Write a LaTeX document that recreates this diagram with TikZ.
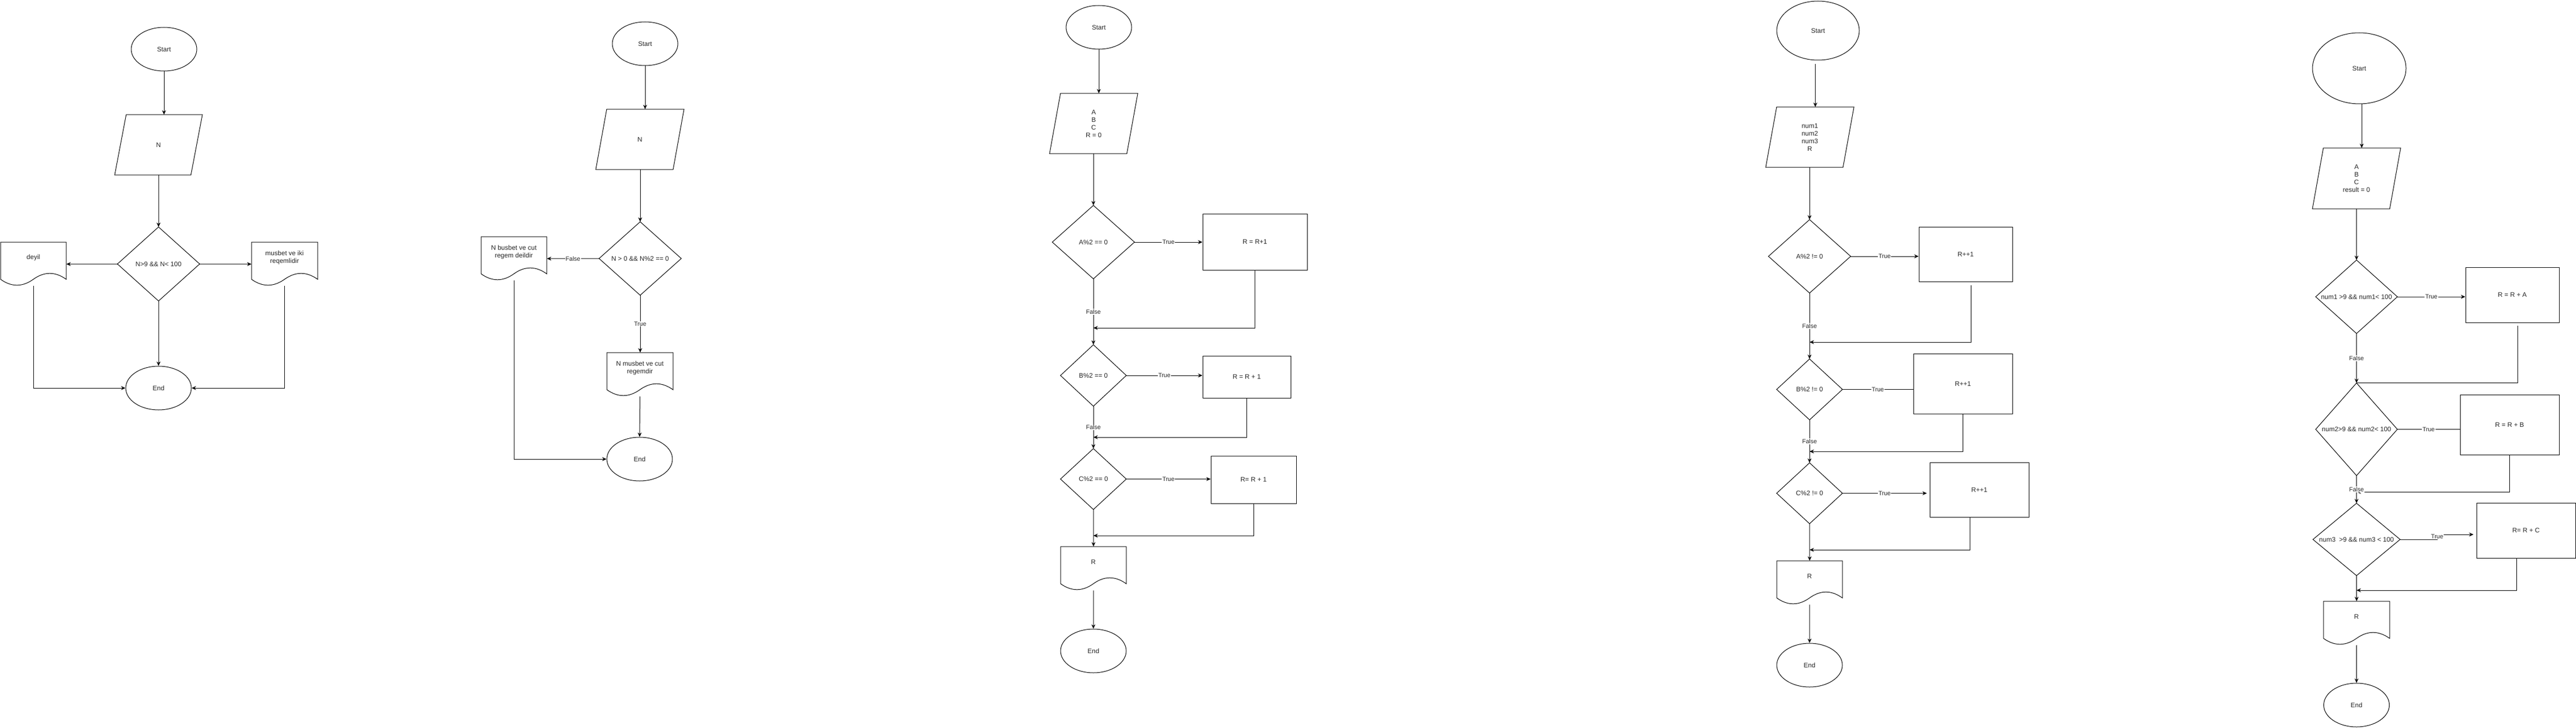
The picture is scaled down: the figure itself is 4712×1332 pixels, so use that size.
\documentclass[tikz,border=0pt]{standalone}
\usepackage{fontspec}
\setmainfont{Liberation Sans}
\usetikzlibrary{shapes.geometric,arrows.meta,calc}
\tikzset{
  ln/.style={line width=1pt, draw=black},
  arr/.style={ln, -{Stealth[length=8pt,width=7pt,inset=2.5pt]}},
  txt/.style={text=black!85, font=\fontsize{12pt}{14pt}\selectfont, align=center},
  term/.style={ellipse, ln, txt, inner sep=0pt},
  proc/.style={rectangle, ln, txt, inner sep=0pt},
  frame/.style={rectangle, txt, inner sep=0pt},
  elab/.style={fill=white, inner sep=1pt, text=black!85, font=\fontsize{11pt}{13pt}\selectfont},
}
\newcommand\diaout[1]{\draw[ln] (#1.north) -- (#1.east) -- (#1.south) -- (#1.west) -- cycle;}
\newcommand\paraout[2]{\draw[ln] ([xshift=#2]#1.north west) -- (#1.north east) -- ([xshift=-#2]#1.south east) -- (#1.south west) -- cycle;}
\newcommand\docshape[5]{%
  \pgfmathsetmacro\dA{#2+#4}\pgfmathsetmacro\dM{#2+#4/2}%
  \pgfmathsetmacro\dC{#2+5*#4/6}\pgfmathsetmacro\dD{#2+2*#4/3}%
  \pgfmathsetmacro\dE{#2+#4/3}\pgfmathsetmacro\dF{#2+#4/6}%
  \pgfmathsetmacro\dY{#3+68}\pgfmathsetmacro\dU{#3+53.6}\pgfmathsetmacro\dL{#3+82.4}%
  \pgfmathsetmacro\dT{#3+28}%
  \node[frame, minimum width=#4pt, minimum height=80pt, anchor=north west] (#1) at (#2,#3) {};
  \draw[ln] (#2,#3) -- (\dA,#3) -- (\dA,\dY) .. controls (\dC,\dU) and (\dD,\dU) .. (\dM,\dY) .. controls (\dE,\dL) and (\dF,\dL) .. (#2,\dY) -- cycle;
  \node[txt] at (\dM,\dT) {#5};
}
\begin{document}
\begin{tikzpicture}[x=1pt,y=-1pt]
\useasboundingbox (0,0) rectangle (4712,1332);
\fill[white] (0,0) rectangle (4712,1332);

% ---------------- Flowchart 1 ----------------
\node[term, minimum width=120pt, minimum height=80pt] (s1) at (300,90) {Start};
\node[frame, minimum width=160pt, minimum height=110pt] (p1) at (290,265) {N}; \paraout{p1}{21pt}
\node[frame, minimum width=150pt, minimum height=135pt] (d1) at (290,483) {N>9 \&\& N< 100}; \diaout{d1}
\docshape{o1L}{1}{443}{120}{deyil}
\docshape{o1R}{460}{443}{121}{musbet ve iki\\reqemlidir}
\node[term, minimum width=120pt, minimum height=80pt] (e1) at (290,710) {End};
\draw[arr] (s1.south) -- (s1.south |- p1.north);
\draw[arr] (d1.north |- p1.south) -- (d1.north);
\draw[arr] (d1.west) -- (o1L.east);
\draw[arr] (d1.east) -- (o1R.west);
\draw[arr] (d1.south) -- (e1.north);
\draw[arr] (o1L.south) |- (e1.west);
\draw[arr] (o1R.south) |- (e1.east);

% ---------------- Flowchart 2 ----------------
\node[term, minimum width=120pt, minimum height=80pt] (s2) at (1180,80) {Start};
\node[frame, minimum width=161pt, minimum height=110pt] (p2) at (1170.5,255) {N}; \paraout{p2}{20pt}
\node[frame, minimum width=150pt, minimum height=134pt] (d2) at (1171,473) {N > 0 \&\& N\%2 == 0}; \diaout{d2}
\docshape{o2L}{880}{433}{120}{N busbet ve cut\\regem deildir}
\docshape{o2M}{1110}{645}{121}{N musbet ve cut\\regemdir}
\node[term, minimum width=120pt, minimum height=80pt] (e2) at (1170,840) {End};
\draw[arr] (s2.south) -- (s2.south |- p2.north);
\draw[arr] (d2.north |- p2.south) -- (d2.north);
\draw[arr] (d2.west) -- node[elab]{False} (o2L.east);
\draw[arr] (d2.south) -- node[elab]{True} (d2.south |- o2M.north);
\draw[arr] (o2M.south) -- (e2.north);
\draw[arr] (o2L.south) |- (e2.west);

% ---------------- Flowchart 3 ----------------
\node[term, minimum width=120pt, minimum height=80pt] (s3) at (2010,50) {Start};
\node[frame, minimum width=161pt, minimum height=110pt] (p3) at (2000.5,226) {A\\B\\C\\R = 0}; \paraout{p3}{20pt}
\node[frame, minimum width=150pt, minimum height=134pt] (dA3) at (2000,443) {A\%2 == 0}; \diaout{dA3}
\node[proc, minimum width=191pt, minimum height=103pt] (bA3) at (2295.5,442.5) {R = R+1};
\node[frame, minimum width=120pt, minimum height=112pt] (dB3) at (2000,687) {B\%2 == 0}; \diaout{dB3}
\node[proc, minimum width=161pt, minimum height=77pt] (bB3) at (2280.5,689.5) {R = R + 1};
\node[frame, minimum width=120pt, minimum height=111pt] (dC3) at (2000,876.5) {C\%2 == 0}; \diaout{dC3}
\node[proc, minimum width=156pt, minimum height=87pt] (bC3) at (2293,877.5) {R= R + 1};
\docshape{o3}{1940}{1000}{120}{R}
\node[term, minimum width=120pt, minimum height=80pt] (e3) at (2000,1191) {End};
\coordinate (jA3) at (2000,600);
\coordinate (jB3) at (2000,800);
\coordinate (jC3) at (2000,980);
\draw[arr] (s3.south) -- (s3.south |- p3.north);
\draw[arr] (dA3.north |- p3.south) -- (dA3.north);
\draw[arr] (dA3.east) -- node[elab]{True} (dA3.east -| bA3.west);
\draw[arr] (dA3.south) -- node[elab]{False} (dB3.north);
\draw[arr] (bA3.south) |- (jA3);
\draw[arr] (dB3.east) -- node[elab]{True} (dB3.east -| bB3.west);
\draw[arr] (dB3.south) -- node[elab]{False} (dC3.north);
\draw[arr] (bB3.south) |- (jB3);
\draw[arr] (dC3.east) -- node[elab]{True} (dC3.east -| bC3.west);
\draw[arr] (bC3.south) |- (jC3);
\draw[arr] (dC3.south) -- (o3.north);
\draw[arr] (o3.south) -- (e3.north);

% ---------------- Flowchart 4 ----------------
\node[term, minimum width=151pt, minimum height=108pt] (s4) at (3325.5,56) {Start};
\node[frame, minimum width=161pt, minimum height=110pt] (p4) at (3310.5,251) {num1\\num2\\num3\\R}; \paraout{p4}{20pt}
\node[frame, minimum width=150pt, minimum height=134pt] (dA4) at (3310,469) {A\%2 != 0}; \diaout{dA4}
\node[proc, minimum width=171pt, minimum height=100pt] (bA4) at (3595.5,465) {R++1};
\node[frame, minimum width=120pt, minimum height=111pt] (dB4) at (3310,712.5) {B\%2 != 0}; \diaout{dB4}
\node[proc, minimum width=181pt, minimum height=110pt] (bB4) at (3590.5,702) {R++1};
\node[frame, minimum width=120pt, minimum height=111pt] (dC4) at (3310,902.5) {C\%2 != 0}; \diaout{dC4}
\node[proc, minimum width=181pt, minimum height=100pt] (bC4) at (3620.5,896) {R++1};
\docshape{o4}{3250}{1026}{120}{R}
\node[term, minimum width=120pt, minimum height=80pt] (e4) at (3310,1217) {End};
\coordinate (jA4) at (3310,626);
\coordinate (jB4) at (3310,826);
\coordinate (jC4) at (3310,1006);
\draw[arr] ($(s4.south)+(-5,7)$) -- ($(s4.south |- p4.north)+(-5,0)$);
\draw[arr] (dA4.north |- p4.south) -- (dA4.north);
\draw[arr] (dA4.east) -- node[elab]{True} (dA4.east -| bA4.west);
\draw[arr] ($(bA4.south)+(10,6)$) |- (jA4);
\draw[arr] (dA4.south) -- node[elab]{False} (dB4.north);
\draw[ln] (dB4.east) -- node[elab]{True} (dB4.east -| bB4.west);
\draw[arr] (bB4.south) |- (jB4);
\draw[arr] (dB4.south) -- node[elab]{False} (dC4.north);
\draw[arr] (dC4.east) -- node[elab]{True} ($(dC4.east -| bC4.west)+(-5,0)$);
\draw[arr] ($(bC4.south)+(-17,0)$) |- (jC4);
\draw[arr] (dC4.south) -- (o4.north);
\draw[arr] (o4.south) -- (e4.north);

% ---------------- Flowchart 5 ----------------
\node[term, minimum width=171pt, minimum height=130pt] (s5) at (4315.5,125) {Start};
\node[frame, minimum width=161pt, minimum height=111pt] (p5) at (4310.5,326.5) {A\\B\\C\\result = 0}; \paraout{p5}{20pt}
\node[frame, minimum width=149pt, minimum height=134pt] (dA5) at (4310.5,543) {num1 >9 \&\& num1< 100}; \diaout{dA5}
\node[proc, minimum width=171pt, minimum height=101pt] (bA5) at (4595.5,539.5) {R = R + A};
\node[frame, minimum width=149pt, minimum height=169pt] (dB5) at (4310.5,785.5) {num2>9 \&\& num2< 100}; \diaout{dB5}
\node[proc, minimum width=181pt, minimum height=110pt] (bB5) at (4590.5,777) {R = R + B};
\node[frame, minimum width=159pt, minimum height=132pt] (dC5) at (4310.5,987) {num3\ \ >9 \&\& num3 < 100}; \diaout{dC5}
\node[proc, minimum width=181pt, minimum height=101pt] (bC5) at (4620.5,970.5) {R= R + C};
\docshape{o5}{4250}{1100}{121}{R}
\node[term, minimum width=120pt, minimum height=80pt] (e5) at (4310.5,1290) {End};
\coordinate (jB5) at (4310.5,900);
\coordinate (jC5) at (4310.5,1080);
\coordinate (kC5) at (4458,982);
\draw[arr] ($(s5.south)+(4.5,0)$) -- ($(s5.south |- p5.north)+(4.5,0)$);
\draw[arr] (dA5.north |- p5.south) -- (dA5.north);
\draw[arr] (dA5.east) -- node[elab]{True} (dA5.east -| bA5.west);
\draw[ln] ($(bA5.south)+(10,5)$) |- (dB5.north);
\draw[arr] (dA5.south) -- node[elab]{False} (dB5.north);
\draw[ln] (dB5.east) -- node[elab]{True} (dB5.east -| bB5.west);
\draw[arr] (bB5.south) |- (jB5);
\draw[arr] (dB5.south) -- node[elab]{False} (dC5.north);
\draw[arr] (dC5.east) -- (dC5.east -| kC5) -- (kC5 |- 0,978) -- ($(bC5.west |- 0,978)+(-5,0)$);
\node[elab] at (kC5) {True};
\draw[arr] ($(bC5.south)+(-17,0)$) |- (jC5);
\draw[arr] (dC5.south) -- (o5.north);
\draw[arr] (o5.south) -- (e5.north);
\end{tikzpicture}
\end{document}
